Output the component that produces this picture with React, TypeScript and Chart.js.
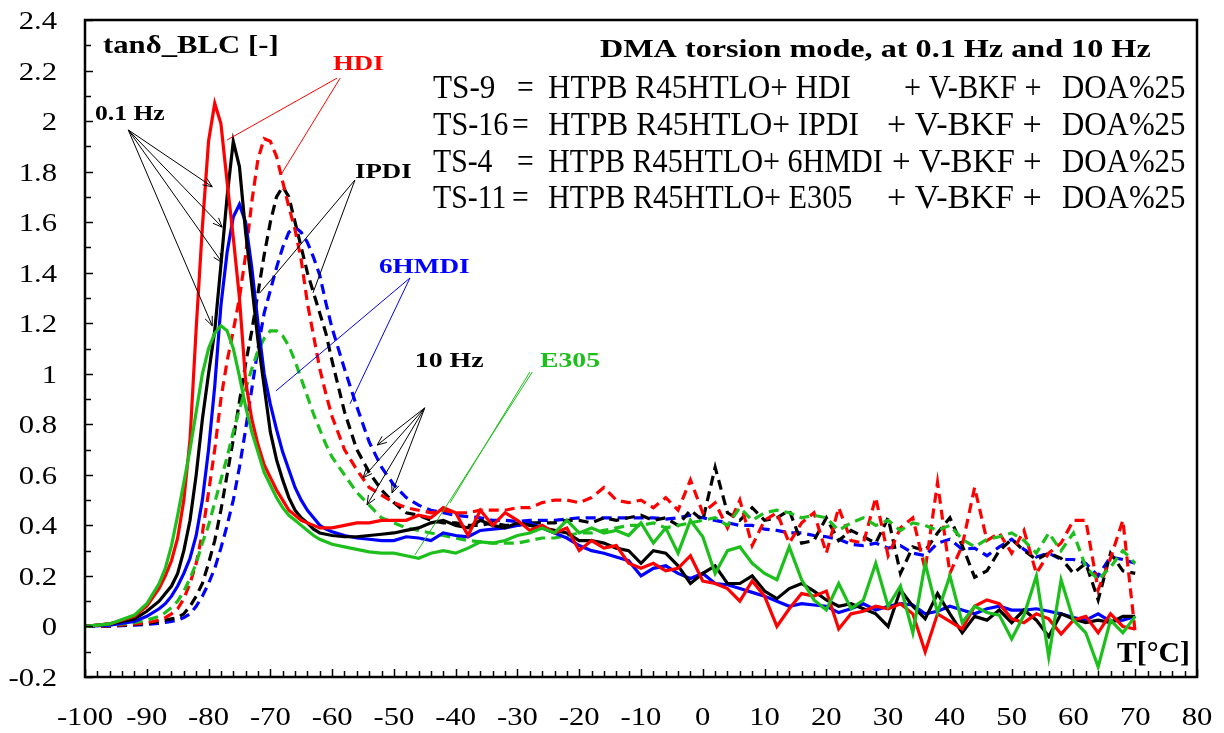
import React, { useEffect, useRef } from "react";
import { Chart, registerables } from "chart.js";

Chart.register(...registerables);

// Temperature grid (°C)
const T = [
  -100, -96, -92, -90, -88,
  -87, -86, -85, -84, -83, -82, -81, -80, -79, -78, -77, -76, -75, -74, -73, -72, -71, -70, -69, -68, -67, -66, -65, -64, -63, -62, -61, -60,
  -58, -56, -54, -52, -50,
  -48, -46, -44, -42, -40, -38, -36, -34, -32, -30,
  -28, -26, -24, -22, -20, -18, -16, -14, -12, -10,
  -8, -6, -4, -2, 0, 2, 4, 6, 8, 10,
  12, 14, 16, 18, 20, 22, 24, 26, 28, 30,
  32, 34, 36, 38, 40, 42, 44, 46, 48, 50,
  52, 54, 56, 58, 60, 62, 64, 66, 68, 70,
];

// 0.1 Hz (solid)
const TS9_HDI_01 = [
  0, 0.01, 0.04, 0.08, 0.15,
  0.2, 0.26, 0.35, 0.5, 0.74, 1.18, 1.58, 1.92, 2.07, 1.99, 1.76, 1.54, 1.3, 0.97, 0.82, 0.72, 0.64, 0.59, 0.54, 0.5, 0.46, 0.44, 0.42, 0.41, 0.4, 0.39, 0.39, 0.39,
  0.4, 0.41, 0.41, 0.42, 0.42,
  0.42, 0.44, 0.43, 0.47, 0.45, 0.36, 0.46, 0.4, 0.45, 0.42,
  0.38, 0.4, 0.37, 0.39, 0.3, 0.34, 0.31, 0.32, 0.25, 0.23,
  0.25, 0.22, 0.23, 0.28, 0.18, 0.17, 0.15, 0.1, 0.18, 0.12,
  0.0, 0.07, 0.13, 0.12, 0.14, -0.01, 0.05, 0.06, 0.08, 0.07,
  0.09, 0.05, -0.1, 0.05, 0.02, -0.01, 0.08, 0.105, 0.09, 0.03,
  0.015, 0.05, 0.03, -0.03, 0.025, 0.04, -0.025, 0.05, 0.0, -0.01,
];
const TS16_IPDI_01 = [
  0, 0.01, 0.03, 0.06, 0.1,
  0.13, 0.16, 0.21, 0.3, 0.42, 0.6, 0.82, 1.0, 1.17, 1.43, 1.7, 1.92, 1.82, 1.56, 1.35, 1.13, 0.95, 0.77, 0.66, 0.58, 0.51, 0.46, 0.43, 0.41, 0.385, 0.37, 0.365, 0.36,
  0.355, 0.355, 0.36, 0.365, 0.37,
  0.38, 0.39, 0.41, 0.42, 0.4, 0.39, 0.42, 0.4, 0.39, 0.41,
  0.4, 0.39, 0.38, 0.37, 0.34, 0.34, 0.33, 0.31, 0.3, 0.25,
  0.3, 0.29, 0.24, 0.17, 0.21, 0.24, 0.17, 0.17, 0.2, 0.14,
  0.11, 0.15, 0.17, 0.14, 0.105, 0.08, 0.09, 0.07, 0.05, 0.0,
  0.145, 0.08, 0.03, 0.13, 0.05, -0.025, 0.04, 0.025, 0.065, 0.015,
  0.065, 0.025, -0.04, 0.05, 0.03, 0.015, 0.025, 0.015, 0.04, 0.04,
];
const TS4_6HMDI_01 = [
  0, 0.005, 0.02, 0.04, 0.07,
  0.09, 0.12, 0.16, 0.21, 0.27, 0.36, 0.5, 0.7, 0.95, 1.27, 1.48, 1.62, 1.67, 1.6, 1.42, 1.2, 1.0, 0.88, 0.78, 0.69, 0.62, 0.55, 0.5, 0.46, 0.43, 0.4, 0.385, 0.375,
  0.36, 0.35, 0.345, 0.34, 0.34,
  0.355, 0.35, 0.34, 0.37, 0.36, 0.355, 0.38, 0.385, 0.39, 0.4,
  0.41, 0.39, 0.37, 0.35, 0.32, 0.3, 0.29, 0.275, 0.26, 0.2,
  0.23, 0.24, 0.21, 0.19, 0.21, 0.17, 0.165, 0.15, 0.135, 0.12,
  0.1, 0.08, 0.09, 0.085, 0.08, 0.055, 0.07, 0.09, 0.065, 0.08,
  0.09, 0.085, 0.05, 0.06, 0.08, 0.065, 0.05, 0.07, 0.08, 0.065,
  0.065, 0.07, 0.06, 0.05, 0.035, 0.025, 0.05, 0.02, 0.025, 0.04,
];
const TS11_E305_01 = [
  0, 0.01, 0.045, 0.09, 0.17,
  0.23, 0.32, 0.44, 0.57, 0.7, 0.85, 1.0, 1.1, 1.16, 1.19, 1.17, 1.1, 0.99, 0.87, 0.77, 0.69, 0.61, 0.56, 0.51, 0.47, 0.44, 0.42, 0.4, 0.38, 0.36, 0.345, 0.335, 0.325,
  0.315, 0.305, 0.295, 0.29, 0.29,
  0.28, 0.27, 0.29, 0.3, 0.29, 0.31, 0.335, 0.33, 0.34, 0.36,
  0.37, 0.39, 0.37, 0.42, 0.37, 0.39, 0.37, 0.38, 0.36, 0.41,
  0.33, 0.39, 0.29, 0.42, 0.355, 0.21, 0.3, 0.315, 0.25, 0.21,
  0.185, 0.315, 0.185, 0.105, 0.065, 0.17, 0.07, 0.105, 0.25, 0.08,
  0.16, -0.025, 0.25, 0.055, 0.2, 0.015, 0.08, 0.055, 0.045, -0.05,
  0.045, 0.2, -0.12, 0.185, 0.025, -0.025, -0.16, 0.025, -0.025, 0.04,
];

// 10 Hz (dashed)
const TS9_HDI_10 = [
  0, 0.003, 0.01, 0.015, 0.025,
  0.035, 0.05, 0.07, 0.11, 0.17, 0.25, 0.37, 0.53, 0.7, 0.9, 1.05, 1.17, 1.3, 1.47, 1.68, 1.85, 1.93, 1.92, 1.86, 1.76, 1.66, 1.57, 1.45, 1.28, 1.15, 1.02, 0.92, 0.83,
  0.7, 0.62, 0.55, 0.52, 0.49,
  0.47, 0.46, 0.45, 0.46, 0.45, 0.45, 0.46, 0.46, 0.46, 0.47,
  0.47, 0.49, 0.5, 0.5, 0.49, 0.51, 0.55, 0.5, 0.49, 0.5,
  0.47, 0.51, 0.46, 0.58, 0.45, 0.49, 0.39, 0.5, 0.32, 0.42,
  0.45, 0.33, 0.41, 0.45, 0.29, 0.47, 0.34, 0.33, 0.51, 0.28,
  0.39, 0.43, 0.225, 0.57, 0.21, 0.32, 0.55, 0.34, 0.37, 0.29,
  0.38, 0.21, 0.29, 0.33, 0.42, 0.42, 0.145, 0.27, 0.42, -0.025,
];
const TS16_IPDI_10 = [
  0, 0.002, 0.008, 0.012, 0.02,
  0.025, 0.03, 0.035, 0.05, 0.08, 0.12, 0.17, 0.25, 0.34, 0.46, 0.6, 0.74, 0.89, 1.04, 1.17, 1.32, 1.47, 1.6, 1.7, 1.74, 1.7, 1.6, 1.5, 1.4, 1.32, 1.24, 1.16, 1.05,
  0.85, 0.7, 0.61, 0.54, 0.49,
  0.45, 0.44, 0.42, 0.41, 0.41, 0.4, 0.4, 0.41, 0.4, 0.4,
  0.41, 0.41, 0.41, 0.42, 0.42, 0.41, 0.43, 0.42, 0.43, 0.44,
  0.42, 0.43, 0.4, 0.46, 0.42, 0.63, 0.45, 0.42, 0.47, 0.42,
  0.43, 0.46, 0.33, 0.34, 0.43, 0.34, 0.38, 0.355, 0.33, 0.43,
  0.21, 0.315, 0.3, 0.37, 0.43, 0.32, 0.195, 0.22, 0.3, 0.345,
  0.3, 0.265, 0.29, 0.27, 0.21, 0.25, 0.105, 0.29, 0.22, 0.21,
];
const TS4_6HMDI_10 = [
  0, 0.001, 0.005, 0.008, 0.012,
  0.016, 0.02, 0.025, 0.035, 0.05, 0.08, 0.12, 0.17, 0.23, 0.31, 0.4, 0.5, 0.63, 0.78, 0.94, 1.1, 1.24, 1.33, 1.42, 1.5, 1.56, 1.58, 1.56, 1.52, 1.46, 1.39, 1.28, 1.18,
  1.02, 0.87, 0.73, 0.63, 0.56,
  0.51, 0.48, 0.46, 0.45, 0.44, 0.435, 0.43, 0.42, 0.42, 0.415,
  0.42, 0.42, 0.42, 0.425, 0.43, 0.43, 0.43, 0.43, 0.43, 0.43,
  0.43, 0.425, 0.43, 0.44, 0.43, 0.42, 0.41, 0.4, 0.4, 0.385,
  0.38, 0.37, 0.37, 0.36, 0.355, 0.345, 0.325, 0.32, 0.33, 0.31,
  0.32, 0.29, 0.28, 0.33, 0.345, 0.305, 0.31, 0.28, 0.315, 0.345,
  0.305, 0.275, 0.29, 0.265, 0.265, 0.25, 0.2, 0.275, 0.265, 0.25,
];
const TS11_E305_10 = [
  0, 0.005, 0.015, 0.025, 0.04,
  0.055, 0.075, 0.1, 0.14, 0.19, 0.25, 0.33, 0.4, 0.49, 0.58, 0.67, 0.77, 0.86, 0.94, 1.02, 1.09, 1.14, 1.17, 1.17, 1.15, 1.11, 1.05, 0.98, 0.91, 0.84, 0.78, 0.72, 0.67,
  0.6, 0.53, 0.48, 0.43, 0.41,
  0.39, 0.38, 0.37, 0.36, 0.35, 0.34, 0.335, 0.33, 0.33, 0.33,
  0.34, 0.35, 0.35, 0.36, 0.37, 0.37, 0.38, 0.39, 0.4, 0.4,
  0.41, 0.39, 0.4, 0.41, 0.42, 0.43, 0.4, 0.47, 0.42, 0.45,
  0.46, 0.45, 0.43, 0.44, 0.43, 0.38, 0.41, 0.43, 0.4, 0.42,
  0.38, 0.41, 0.4, 0.38, 0.4, 0.345, 0.315, 0.345, 0.355, 0.37,
  0.34, 0.29, 0.37, 0.3, 0.37, 0.235, 0.185, 0.235, 0.3, 0.25,
];

const X_TICK_LABELS = [-100, -90, -80, -70, -60, -50, -40, -30, -20, -10, 0, 10, 20, 30, 40, 50, 60, 70, 80];
const Y_TICK_LABELS = ["-0.2", "0", "0.2", "0.4", "0.6", "0.8", "1", "1.2", "1.4", "1.6", "1.8", "2", "2.2", "2.4"];

const RED = "#ff0000";
const BLACK = "#000000";
const BLUE = "#0000ff";
const GREEN = "#1cbf1c";

// Callout lines, in data units: [fromX, fromY, toX, toY]
const CALLOUTS_01HZ = [
  [-93.0, 1.965, -79.4, 1.74],
  [-93.0, 1.965, -77.8, 1.58],
  [-93.0, 1.965, -77.8, 1.44],
  [-93.0, 1.965, -79.4, 1.19],
];
const CALLOUTS_10HZ = [
  [-45.0, 0.865, -52.7, 0.718],
  [-45.0, 0.865, -55.0, 0.588],
  [-45.0, 0.865, -54.35, 0.481],
  [-45.0, 0.865, -50.3, 0.528],
];
const CALLOUTS_HDI = [
  [-59.2, 2.17, -77.0, 1.925],
  [-58.7, 2.17, -68.3, 1.787],
];
const CALLOUTS_IPDI = [
  [-56.3, 1.767, -71.7, 1.32],
  [-56.3, 1.767, -63.1, 1.32],
];
const CALLOUTS_6HMDI = [
  [-47.4, 1.379, -69.1, 0.932],
  [-47.4, 1.379, -57.1, 0.881],
];
const CALLOUTS_E305 = [
  [-28.0, 1.007, -40.9, 0.489],
  [-27.6, 1.007, -46.6, 0.283],
];

const LEGEND_LINES = [
  { id: "TS-9", idW: 62, eqX: 517, body: "HTPB R45HTLO+ HDI", bodyW: 302, plusX: 905 },
  { id: "TS-16", idW: 75, eqX: 512, body: "HTPB R45HTLO+ IPDI", bodyW: 310, plusX: 888 },
  { id: "TS-4", idW: 59, eqX: 517, body: "HTPB R45HTLO+ 6HMDI", bodyW: 334, plusX: 893 },
  { id: "TS-11", idW: 72, eqX: 512, body: "HTPB R45HTLO+ E305", bodyW: 304, plusX: 888 },
];

const SERIF = "'Liberation Serif', 'Times New Roman', serif";

function toPoints(vals: number[]) {
  return T.map((t, i) => ({ x: t, y: vals[i] }));
}

function drawText(
  ctx: CanvasRenderingContext2D,
  text: string,
  x: number,
  y: number,
  font: string,
  color: string,
  align: "left" | "right" | "center",
  sx: number
) {
  ctx.save();
  ctx.font = font;
  ctx.fillStyle = color;
  ctx.textBaseline = "alphabetic";
  ctx.textAlign = "left";
  const w = ctx.measureText(text).width * sx;
  let x0 = x;
  if (align === "right") x0 = x - w;
  if (align === "center") x0 = x - w / 2;
  ctx.translate(x0, y);
  ctx.scale(sx, 1);
  ctx.fillText(text, 0, 0);
  ctx.restore();
}

// draw text stretched horizontally to span [x, x + width]
function drawFit(ctx: CanvasRenderingContext2D, text: string, x: number, y: number, font: string, color: string, width: number) {
  ctx.save();
  ctx.font = font;
  const m = ctx.measureText(text);
  const ink = (m.actualBoundingBoxRight || m.width) + (m.actualBoundingBoxLeft || 0);
  const sx = width / ink;
  ctx.restore();
  drawText(ctx, text, x + (m.actualBoundingBoxLeft || 0) * sx, y, font, color, "left", sx);
}

const decorPlugin = {
  id: "decor",
  afterDatasetsDraw(chart: any) {
    const ctx: CanvasRenderingContext2D = chart.ctx;
    const { left, right, top, bottom } = chart.chartArea;
    const xs = chart.scales.x;
    const ys = chart.scales.y;

    ctx.save();
    // ticks
    ctx.strokeStyle = "#000";
    ctx.lineWidth = 1.5;
    for (let v = -100; v <= 80; v += 2) {
      const px = Math.round(xs.getPixelForValue(v)) + 0.5;
      const len = v % 10 === 0 ? 8 : 6;
      ctx.beginPath();
      ctx.moveTo(px, bottom);
      ctx.lineTo(px, bottom - len);
      ctx.stroke();
    }
    for (let k = -2; k <= 24; k++) {
      const py = Math.round(ys.getPixelForValue(k / 10)) + 0.5;
      const len = k % 2 === 0 ? 8 : 6;
      ctx.beginPath();
      ctx.moveTo(left, py);
      ctx.lineTo(left + len, py);
      ctx.stroke();
    }
    // frame
    ctx.lineWidth = 2.5;
    ctx.strokeRect(left, top, right - left, bottom - top);

    // tick labels
    const tickFont = `26px ${SERIF}`;
    X_TICK_LABELS.forEach((v) => {
      drawText(ctx, String(v), xs.getPixelForValue(v), bottom + 48, tickFont, "#000", "center", 1.18);
    });
    Y_TICK_LABELS.forEach((s) => {
      drawText(ctx, s, left - 28, ys.getPixelForValue(parseFloat(s)) + 9, tickFont, "#000", "right", 1.18);
    });

    // callouts
    const seg = (c: number[], color: string, head: boolean) => {
      const x1 = xs.getPixelForValue(c[0]);
      const y1 = ys.getPixelForValue(c[1]);
      const x2 = xs.getPixelForValue(c[2]);
      const y2 = ys.getPixelForValue(c[3]);
      ctx.strokeStyle = color;
      ctx.lineWidth = 1;
      ctx.beginPath();
      ctx.moveTo(x1, y1);
      ctx.lineTo(x2, y2);
      ctx.stroke();
      if (head) {
        const a = Math.atan2(y2 - y1, x2 - x1);
        const L = 10;
        ctx.beginPath();
        ctx.moveTo(x2 - L * Math.cos(a - 0.4), y2 - L * Math.sin(a - 0.4));
        ctx.lineTo(x2, y2);
        ctx.lineTo(x2 - L * Math.cos(a + 0.4), y2 - L * Math.sin(a + 0.4));
        ctx.stroke();
      }
    };
    CALLOUTS_01HZ.forEach((c) => seg(c, "#000", true));
    CALLOUTS_10HZ.forEach((c) => seg(c, "#000", true));
    CALLOUTS_HDI.forEach((c) => seg(c, RED, false));
    CALLOUTS_IPDI.forEach((c) => seg(c, "#000", false));
    CALLOUTS_6HMDI.forEach((c) => seg(c, BLUE, false));
    CALLOUTS_E305.forEach((c) => seg(c, GREEN, false));

    // labels
    const bold = (s: number) => `bold ${s}px ${SERIF}`;
    drawFit(ctx, "tanδ_BLC [-]", 103, 53, bold(25), "#000", 174);
    drawFit(ctx, "HDI", 333, 70, bold(22), RED, 50);
    drawFit(ctx, "0.1 Hz", 95, 120, bold(22), "#000", 70);
    drawFit(ctx, "IPDI", 355, 178, bold(22), "#000", 56);
    drawFit(ctx, "6HMDI", 379, 273, bold(22), BLUE, 90);
    drawFit(ctx, "10 Hz", 416, 367, bold(22), "#000", 68);
    drawFit(ctx, "E305", 540, 367, bold(22), GREEN, 60);
    drawFit(ctx, "DMA torsion mode, at 0.1 Hz and 10 Hz", 600, 57, bold(26), "#000", 550);
    drawFit(ctx, "T[°C]", 1117, 662, bold(30), "#000", 71);

    const legFont = `33px ${SERIF}`;
    LEGEND_LINES.forEach((ln, i) => {
      const by = 98 + i * 36.8;
      drawFit(ctx, ln.id, 433, by, legFont, "#000", ln.idW);
      drawText(ctx, "=", ln.eqX, by, legFont, "#000", "left", 0.9);
      drawFit(ctx, ln.body, 548, by, legFont, "#000", ln.bodyW);
      drawFit(ctx, "+ V-BKF +", ln.plusX, by, legFont, "#000", 1040 - ln.plusX);
      drawFit(ctx, "DOA%25", 1062, by, legFont, "#000", 123);
    });
    ctx.restore();
  },
};

export default function App() {
  const ref = useRef<HTMLCanvasElement | null>(null);
  useEffect(() => {
    if (!ref.current) return;
    const solid = (label: string, vals: number[], color: string) => ({
      label,
      data: toPoints(vals),
      borderColor: color,
      backgroundColor: color,
      borderWidth: 3.2,
      pointRadius: 0,
      tension: 0,
      fill: false,
    });
    const dashed = (label: string, vals: number[], color: string) => ({
      ...solid(label, vals, color),
      borderDash: [10, 6],
    });
    const chart = new Chart(ref.current, {
      type: "line",
      data: {
        datasets: [
          solid("TS-11 0.1 Hz", TS11_E305_01, GREEN),
          solid("TS-9 0.1 Hz", TS9_HDI_01, RED),
          solid("TS-16 0.1 Hz", TS16_IPDI_01, BLACK),
          solid("TS-4 0.1 Hz", TS4_6HMDI_01, BLUE),
          dashed("TS-11 10 Hz", TS11_E305_10, GREEN),
          dashed("TS-9 10 Hz", TS9_HDI_10, RED),
          dashed("TS-16 10 Hz", TS16_IPDI_10, BLACK),
          dashed("TS-4 10 Hz", TS4_6HMDI_10, BLUE),
        ],
      },
      options: {
        animation: false,
        responsive: false,
        devicePixelRatio: 1,
        layout: { padding: { left: 85, right: 27, top: 20, bottom: 56 } },
        plugins: { legend: { display: false }, tooltip: { enabled: false }, title: { display: false } },
        scales: {
          x: { type: "linear", min: -100, max: 80, display: false },
          y: { type: "linear", min: -0.2, max: 2.4, display: false },
        },
      },
      plugins: [decorPlugin],
    });
    return () => chart.destroy();
  }, []);
  return (
    <div style={{ position: "fixed", left: 0, top: 0, width: 1224, height: 733, background: "#fff" }}>
      <canvas ref={ref} width={1224} height={733} style={{ width: 1224, height: 733, display: "block" }} />
    </div>
  );
}
